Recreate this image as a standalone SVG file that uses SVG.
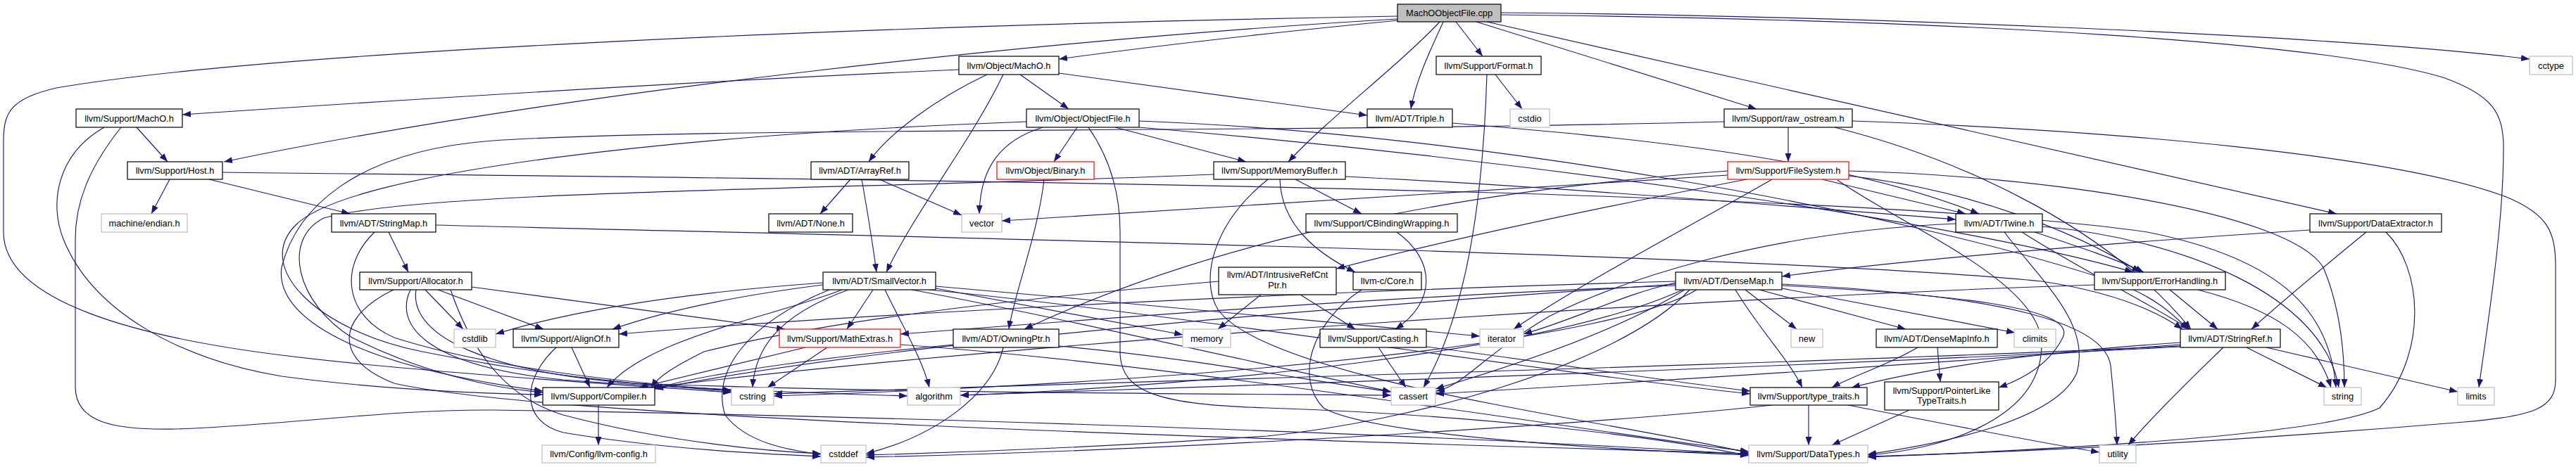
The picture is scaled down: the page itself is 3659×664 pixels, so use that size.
<svg xmlns="http://www.w3.org/2000/svg" width="3659" height="664" viewBox="0 0 3659 664">
<style>
.n rect{fill:#fff;stroke:#000;stroke-width:1.2}
.g rect{fill:#fff;stroke:#bfbfbf;stroke-width:1.2}
.r rect{fill:#fff;stroke:#ff0000;stroke-width:1.2}
.c rect{fill:#bfbfbf;stroke:#000;stroke-width:1.2}
text{font-family:"Liberation Sans",Arial,Helvetica,sans-serif;font-size:12.8px;text-anchor:middle;fill:#000}
#edges path{fill:none;stroke:#191970;stroke-width:1.15;marker-end:url(#a)}
</style>
<defs>
<marker id="a" viewBox="0 0 12 9" refX="12" refY="4.5" markerWidth="12" markerHeight="9" markerUnits="userSpaceOnUse" orient="auto"><path d="M0,0L12,4.5L0,9z" fill="#191970"/></marker>
</defs>
<rect width="3659" height="664" fill="#fff"/>
<g id="edges">
<path d="M1986,29 C1800,47 1620,68 1504,84"/>
<path d="M2050,31 C2035,65 2012,110 2004,155"/>
<path d="M2068,31 L2106,80"/>
<path d="M2045,31 C1990,90 1885,170 1830,230"/>
<path d="M1985,27 C1500,55 800,130 318,230"/>
<path d="M1985,23 C1300,35 400,70 80,125 C15,140 5,160 5,200 L5,330 C5,430 200,480 400,505 C600,530 900,548 1039,558"/>
<path d="M2097,31 L2495,155"/>
<path d="M2112,31 L3319,304"/>
<path d="M2132,18 C2600,22 3300,48 3593,84"/>
<path d="M2132,21 C2800,28 3300,60 3470,110 C3540,135 3556,160 3556,210 C3556,320 3535,450 3521,551"/>
<path d="M1402,106 C1330,140 1262,190 1234,230"/>
<path d="M1425,106 C1380,200 1300,300 1259,387"/>
<path d="M1449,106 L1518,155"/>
<path d="M1504,104 L1942,164"/>
<path d="M1362,99 C1000,115 600,140 259,163"/>
<path d="M194,181 L238,230"/>
<path d="M148,181 C80,220 70,290 90,340 C130,440 250,510 400,535 C550,555 700,560 771,561"/>
<path d="M172,181 C125,240 107,290 107,340 L107,550 C107,600 160,612 250,610 C400,605 550,582 700,583 C1200,590 2000,615 2484,646"/>
<path d="M241,255 L215,304"/>
<path d="M297,255 L497,304"/>
<path d="M316,245 C1200,255 2600,265 3050,330 C3250,370 3310,450 3318,551"/>
<path d="M552,330 L580,387"/>
<path d="M619,320 C1200,335 2500,360 2900,400 C3000,415 3060,440 3100,468"/>
<path d="M532,330 C480,380 490,450 560,480 C700,525 900,545 1039,555"/>
<path d="M1530,181 L1497,230"/>
<path d="M1481,181 C1420,200 1392,240 1391,304"/>
<path d="M1584,181 L1770,230"/>
<path d="M1546,181 C1580,230 1591,280 1591,330 L1591,500 C1591,560 1650,575 1800,580 C2100,590 2350,620 2484,648"/>
<path d="M1618,172 C2100,190 2700,300 3000,400 C3060,420 3090,450 3108,468"/>
<path d="M1618,181 C2200,230 2800,320 3030,387"/>
<path d="M1458,173 C1000,190 500,240 420,320 C360,380 450,470 600,500 C800,540 950,550 1039,556"/>
<path d="M1483,255 C1475,330 1440,420 1433,468"/>
<path d="M1208,255 L1165,304"/>
<path d="M1224,255 C1232,300 1240,350 1245,387"/>
<path d="M1249,255 L1366,306"/>
<path d="M1840,255 L1934,304"/>
<path d="M1818,255 C1820,320 1870,360 1925,387"/>
<path d="M1911,251 C2200,265 2500,290 2778,312"/>
<path d="M1724,248 C1200,270 600,270 460,310 C400,340 420,430 500,480 C600,530 700,552 771,558"/>
<path d="M1801,255 C1720,320 1705,400 1730,440 C1800,540 2300,600 2484,644"/>
<path d="M2588,255 L2792,304"/>
<path d="M2481,255 C2350,280 2100,330 1898,382"/>
<path d="M2517,255 C2440,300 2250,400 2150,468"/>
<path d="M2454,243 C2100,270 1750,330 1455,468"/>
<path d="M2454,249 C2200,262 1900,285 1423,314"/>
<path d="M2626,243 C2900,250 3250,300 3300,380 C3325,440 3330,500 3330,551"/>
<path d="M2626,250 C2800,270 2950,330 3040,387"/>
<path d="M2610,256 C2700,320 2900,400 2900,490 C2900,600 2750,640 2653,647"/>
<path d="M2540,181 L2540,230"/>
<path d="M2449,173 C1800,190 1000,180 700,200 C500,215 420,300 400,380 C390,450 500,520 771,556"/>
<path d="M2606,181 C2800,230 3000,330 3112,468"/>
<path d="M2631,172 C3000,185 3400,220 3560,280 C3620,305 3630,330 3630,380 L3630,540 C3630,580 3600,592 3500,600 C3200,625 2900,642 2653,649"/>
<path d="M2872,330 C2950,380 3050,430 3110,468"/>
<path d="M2890,330 C2950,350 3010,370 3045,387"/>
<path d="M2847,330 C2900,400 2970,460 2950,530 C2920,600 2750,632 2653,646"/>
<path d="M2778,318 C2500,330 2300,400 2200,450 C2100,510 2080,548 2040,556"/>
<path d="M2901,322 C3100,340 3300,420 3322,551"/>
<path d="M3082,412 L3150,468"/>
<path d="M3122,412 C3230,440 3290,480 3311,551"/>
<path d="M2975,405 C2500,420 1500,480 925,551"/>
<path d="M3191,494 L3305,551"/>
<path d="M3219,494 L3491,557"/>
<path d="M3158,494 C3100,550 3050,600 3023,633"/>
<path d="M3097,487 C2900,500 2750,520 2630,551"/>
<path d="M3097,490 C2700,520 2300,545 2039,560"/>
<path d="M3097,492 C2500,520 1500,545 1099,560"/>
<path d="M3097,493 C2500,525 1700,550 1364,562"/>
<path d="M3361,330 C3300,380 3240,430 3198,468"/>
<path d="M3389,330 C3440,380 3450,500 3380,580 C3300,620 2900,640 2653,650"/>
<path d="M3281,327 C3000,345 2700,370 2531,393"/>
<path d="M604,412 L658,468"/>
<path d="M622,412 L772,468"/>
<path d="M670,408 L1115,468"/>
<path d="M559,412 C480,450 470,510 560,545 C800,600 2000,630 2484,645"/>
<path d="M583,412 C560,460 600,520 800,540 C1000,555 1200,560 1289,563"/>
<path d="M591,412 C580,480 700,530 900,545 C1300,560 1800,560 1976,562"/>
<path d="M640,412 C660,470 700,560 800,590 C950,630 1100,642 1166,645"/>
<path d="M1169,405 C1050,420 950,440 870,468"/>
<path d="M1169,402 C950,418 800,445 704,475"/>
<path d="M1196,412 C1100,450 920,480 862,551"/>
<path d="M1240,412 L1203,468"/>
<path d="M1257,412 C1280,460 1310,510 1320,551"/>
<path d="M1295,412 C1500,450 1800,520 1976,557"/>
<path d="M1329,407 C1600,430 1900,460 2102,478"/>
<path d="M1329,410 L1680,476"/>
<path d="M1320,412 C1700,450 2200,530 2486,560"/>
<path d="M1178,412 C1060,460 1010,530 1030,590 C1060,630 1120,640 1166,646"/>
<path d="M1205,412 C1100,450 1072,500 1069,551"/>
<path d="M812,494 L838,551"/>
<path d="M790,494 C740,540 740,600 800,615 C950,640 1100,646 1166,649"/>
<path d="M1144,494 L908,551"/>
<path d="M1175,494 L1090,551"/>
<path d="M1279,490 C1700,520 2300,620 2484,642"/>
<path d="M850,576 L850,633"/>
<path d="M1354,490 C1200,505 1000,530 930,553"/>
<path d="M1425,494 C1410,560 1330,620 1230,645"/>
<path d="M1504,492 C1700,510 1850,540 1976,557"/>
<path d="M1791,419 L1730,468"/>
<path d="M1847,419 L1925,468"/>
<path d="M1731,400 C1500,420 1200,450 1000,500 C960,520 935,535 925,551"/>
<path d="M1934,412 C1860,460 1840,540 1880,580 C1950,620 2300,640 2484,647"/>
<path d="M1984,330 C2040,370 2040,430 1982,468"/>
<path d="M1958,494 L1997,551"/>
<path d="M2026,493 C2200,515 2350,540 2486,556"/>
<path d="M2479,412 L2552,468"/>
<path d="M2499,412 L2707,468"/>
<path d="M2531,410 L2862,473"/>
<path d="M2465,412 C2500,470 2540,510 2560,551"/>
<path d="M2531,406 C2800,420 2950,440 2930,480 C2910,520 2870,540 2839,551"/>
<path d="M2531,404 C2850,420 2990,460 2998,520 C3003,570 3006,600 3007,633"/>
<path d="M2380,402 C2300,420 2250,450 2164,475"/>
<path d="M2393,412 C2300,470 2150,520 2039,553"/>
<path d="M2380,400 C2000,410 1300,440 879,475"/>
<path d="M2380,404 C2000,430 1300,480 930,553"/>
<path d="M2380,406 C2000,420 1600,450 1279,475"/>
<path d="M2390,412 C2200,500 1700,550 1364,562"/>
<path d="M2400,412 C2300,520 2000,600 1800,620 C1500,640 1300,645 1230,647"/>
<path d="M2410,412 C2300,480 1800,540 1099,563"/>
<path d="M2752,494 L2756,543"/>
<path d="M2724,494 C2680,520 2630,535 2602,551"/>
<path d="M2712,583 L2602,633"/>
<path d="M2569,576 L2569,633"/>
<path d="M2625,576 C2800,610 2900,630 2982,643"/>
<path d="M2517,576 C2300,600 1700,640 1230,650"/>
<path d="M2063,175 C2300,195 2600,220 2811,304"/>
<path d="M2112,106 C2106,300 2080,450 2022,551"/>
<path d="M2124,106 L2162,155"/>
</g>
<g id="n-cpp" class="c"><rect x="1985" y="6" width="147" height="25"/><text x="2058.5" y="23">MachOObjectFile.cpp</text></g>
<g id="n-omacho" class="n"><rect x="1362" y="80" width="142" height="26"/><text x="1433" y="97.5">llvm/Object/MachO.h</text></g>
<g id="n-format" class="n"><rect x="2040" y="80" width="149" height="26"/><text x="2114.5" y="97.5">llvm/Support/Format.h</text></g>
<g id="n-cctype" class="g"><rect x="3593" y="80" width="61" height="26"/><text x="3623.5" y="97.5">cctype</text></g>
<g id="n-smacho" class="n"><rect x="108" y="155" width="151" height="26"/><text x="183.5" y="172.5">llvm/Support/MachO.h</text></g>
<g id="n-objfile" class="n"><rect x="1458" y="155" width="160" height="26"/><text x="1538" y="172.5">llvm/Object/ObjectFile.h</text></g>
<g id="n-triple" class="n"><rect x="1942" y="155" width="121" height="26"/><text x="2002.5" y="172.5">llvm/ADT/Triple.h</text></g>
<g id="n-cstdio" class="g"><rect x="2145" y="155" width="56" height="26"/><text x="2173" y="172.5">cstdio</text></g>
<g id="n-raw" class="n"><rect x="2449" y="155" width="182" height="26"/><text x="2540" y="172.5">llvm/Support/raw_ostream.h</text></g>
<g id="n-host" class="n"><rect x="181" y="230" width="135" height="25"/><text x="248.5" y="247">llvm/Support/Host.h</text></g>
<g id="n-arrayref" class="n"><rect x="1152" y="230" width="139" height="25"/><text x="1221.5" y="247">llvm/ADT/ArrayRef.h</text></g>
<g id="n-binary" class="r"><rect x="1416" y="230" width="138" height="25"/><text x="1485" y="247">llvm/Object/Binary.h</text></g>
<g id="n-membuf" class="n"><rect x="1724" y="230" width="187" height="25"/><text x="1817.5" y="247">llvm/Support/MemoryBuffer.h</text></g>
<g id="n-filesys" class="r"><rect x="2454" y="230" width="172" height="25"/><text x="2540" y="247">llvm/Support/FileSystem.h</text></g>
<g id="n-endian" class="g"><rect x="144" y="304" width="122" height="26"/><text x="205" y="321.5">machine/endian.h</text></g>
<g id="n-stringmap" class="n"><rect x="471" y="304" width="148" height="26"/><text x="545" y="321.5">llvm/ADT/StringMap.h</text></g>
<g id="n-none" class="n"><rect x="1092" y="304" width="119" height="26"/><text x="1151.5" y="321.5">llvm/ADT/None.h</text></g>
<g id="n-vector" class="g"><rect x="1366" y="304" width="57" height="26"/><text x="1394.5" y="321.5">vector</text></g>
<g id="n-cbind" class="n"><rect x="1855" y="304" width="215" height="26"/><text x="1962.5" y="321.5">llvm/Support/CBindingWrapping.h</text></g>
<g id="n-twine" class="n"><rect x="2778" y="304" width="123" height="26"/><text x="2839.5" y="321.5">llvm/ADT/Twine.h</text></g>
<g id="n-dataext" class="n"><rect x="3281" y="304" width="187" height="26"/><text x="3374.5" y="321.5">llvm/Support/DataExtractor.h</text></g>
<g id="n-alloc" class="n"><rect x="511" y="387" width="159" height="25"/><text x="590.5" y="404">llvm/Support/Allocator.h</text></g>
<g id="n-smallvec" class="n"><rect x="1169" y="387" width="160" height="25"/><text x="1249" y="404">llvm/ADT/SmallVector.h</text></g>
<g id="n-ircp" class="n"><rect x="1731" y="380" width="167" height="39"/><text x="1814.5" y="395">llvm/ADT/IntrusiveRefCnt</text><text x="1814.5" y="410">Ptr.h</text></g>
<g id="n-core" class="n"><rect x="1922" y="387" width="97" height="25"/><text x="1970.5" y="404">llvm-c/Core.h</text></g>
<g id="n-densemap" class="n"><rect x="2380" y="387" width="151" height="25"/><text x="2455.5" y="404">llvm/ADT/DenseMap.h</text></g>
<g id="n-errh" class="n"><rect x="2975" y="387" width="186" height="25"/><text x="3068" y="404">llvm/Support/ErrorHandling.h</text></g>
<g id="n-cstdlib" class="g"><rect x="645" y="468" width="59" height="26"/><text x="674.5" y="485.5">cstdlib</text></g>
<g id="n-alignof" class="n"><rect x="729" y="468" width="150" height="26"/><text x="804" y="485.5">llvm/Support/AlignOf.h</text></g>
<g id="n-mathex" class="r"><rect x="1107" y="468" width="172" height="26"/><text x="1193" y="485.5">llvm/Support/MathExtras.h</text></g>
<g id="n-owningptr" class="n"><rect x="1354" y="468" width="150" height="26"/><text x="1429" y="485.5">llvm/ADT/OwningPtr.h</text></g>
<g id="n-memory" class="g"><rect x="1680" y="468" width="68" height="26"/><text x="1714" y="485.5">memory</text></g>
<g id="n-casting" class="n"><rect x="1875" y="468" width="151" height="26"/><text x="1950.5" y="485.5">llvm/Support/Casting.h</text></g>
<g id="n-iterator" class="g"><rect x="2102" y="468" width="62" height="26"/><text x="2133" y="485.5">iterator</text></g>
<g id="n-new" class="g"><rect x="2544" y="468" width="45" height="26"/><text x="2566.5" y="485.5">new</text></g>
<g id="n-dmi" class="n"><rect x="2665" y="468" width="172" height="26"/><text x="2751" y="485.5">llvm/ADT/DenseMapInfo.h</text></g>
<g id="n-climits" class="g"><rect x="2861" y="468" width="59" height="26"/><text x="2890.5" y="485.5">climits</text></g>
<g id="n-stringref" class="n"><rect x="3097" y="468" width="142" height="26"/><text x="3168" y="485.5">llvm/ADT/StringRef.h</text></g>
<g id="n-compiler" class="n"><rect x="771" y="551" width="159" height="25"/><text x="850.5" y="568">llvm/Support/Compiler.h</text></g>
<g id="n-cstring" class="g"><rect x="1039" y="551" width="60" height="25"/><text x="1069" y="568">cstring</text></g>
<g id="n-algorithm" class="g"><rect x="1289" y="551" width="75" height="25"/><text x="1326.5" y="568">algorithm</text></g>
<g id="n-cassert" class="g"><rect x="1976" y="551" width="63" height="25"/><text x="2007.5" y="568">cassert</text></g>
<g id="n-typetraits" class="n"><rect x="2486" y="551" width="166" height="25"/><text x="2569" y="568">llvm/Support/type_traits.h</text></g>
<g id="n-pltt" class="n"><rect x="2677" y="543" width="162" height="40"/><text x="2758" y="559.5">llvm/Support/PointerLike</text><text x="2758" y="573.5">TypeTraits.h</text></g>
<g id="n-string" class="g"><rect x="3301" y="551" width="53" height="25"/><text x="3327.5" y="568">string</text></g>
<g id="n-limits" class="g"><rect x="3491" y="551" width="52" height="25"/><text x="3517" y="568">limits</text></g>
<g id="n-llvmconfig" class="g"><rect x="770" y="633" width="161" height="25"/><text x="850.5" y="650">llvm/Config/llvm-config.h</text></g>
<g id="n-cstddef" class="g"><rect x="1166" y="633" width="64" height="25"/><text x="1198" y="650">cstddef</text></g>
<g id="n-datatypes" class="g"><rect x="2484" y="633" width="169" height="25"/><text x="2568.5" y="650">llvm/Support/DataTypes.h</text></g>
<g id="n-utility" class="g"><rect x="2982" y="633" width="52" height="25"/><text x="3008" y="650">utility</text></g>
</svg>
